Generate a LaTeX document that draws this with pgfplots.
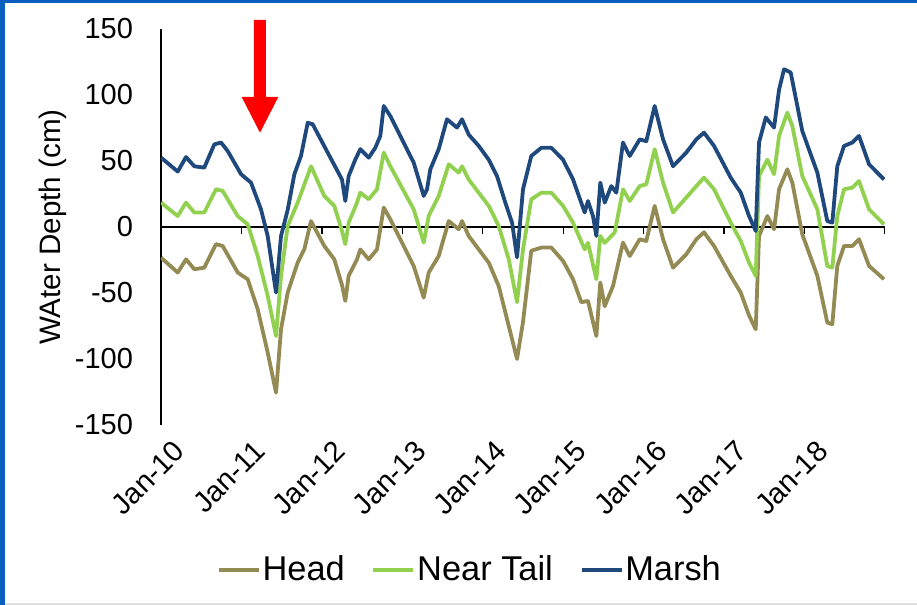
\documentclass[border=0pt]{standalone}
\usepackage{pgfplots}
\pgfplotsset{compat=1.18}
\usepackage{fontspec}
\setmainfont{Liberation Sans}
\definecolor{headc}{HTML}{948A54}
\definecolor{tailc}{HTML}{92D050}
\definecolor{marshc}{HTML}{1F497D}
\definecolor{frameblue}{HTML}{0A5EC0}
\begin{document}
\begin{tikzpicture}
\path[use as bounding box] (-80.5pt,-90pt) rectangle (378pt,212.5pt);
\fill[frameblue] (-80.5pt,-90pt) rectangle (-78pt,212.5pt);
\fill[frameblue] (-80.5pt,211.2pt) rectangle (378pt,212.5pt);
\fill[black!12] (-78pt,-90pt) rectangle (378pt,-89pt);
\begin{axis}[at={(0pt,0pt)}, anchor=south west, scale only axis,
  width=362pt, height=198pt,
  xmin=2010, xmax=2019, ymin=-150, ymax=150,
  axis x line*=bottom, axis y line*=left,
  x axis line style={draw=none},
  y axis line style={-, line width=0.8pt, black},
  xtick={2010,2011,2012,2013,2014,2015,2016,2017,2018,2019},
  xticklabels={Jan-10,Jan-11,Jan-12,Jan-13,Jan-14,Jan-15,Jan-16,Jan-17,Jan-18,{}},
  ytick={-150,-100,-50,0,50,100,150},
  yticklabels={-150,-100,-50,0,50,100,150},
  major tick length=0pt,
  xtick style={draw=none}, ytick style={draw=none},
  tick label style={font=\fontsize{14.5}{17}\selectfont},
  yticklabel style={anchor=east, inner sep=0pt, xshift=-13.8pt},
  xticklabel style={rotate=45, anchor=east, inner sep=0pt, yshift=-14pt, xshift=-1pt},
  ylabel={WAter Depth (cm)},
  every axis y label/.style={at={(axis description cs:-0.150,0.5)}, rotate=90, anchor=center,
    font=\fontsize{14.8}{17}\selectfont},
  legend columns=3,
  legend style={draw=none, fill=none, at={(axis description cs:0.0770,-0.366)}, anchor=west,
    font=\fontsize{17.2}{20}\selectfont, inner sep=0pt,
    nodes={inner sep=1pt},
    /tikz/every even column/.append style={column sep=12.5pt}},
  legend image code/.code={\draw[#1, line width=1.7pt] (0pt,0pt) -- (20pt,0pt);},
  every axis plot/.append style={line width=1.9pt, line join=round},
]
\draw[black, line width=0.8pt] (axis cs:2010,0) -- (axis cs:2019,0);
\pgfplotsinvokeforeach{2011,2012,2013,2014,2015,2016,2017,2018,2019}{
  \draw[black, line width=0.7pt] (axis cs:#1,0) -- ++(0pt,-3.5pt);
}
\addplot[headc] coordinates {
(2010.000,-23.2) (2010.208,-34.5) (2010.311,-24.5) (2010.414,-32) (2010.538,-30.8)
(2010.684,-13) (2010.767,-14.4) (2010.954,-34.5) (2011.078,-39.6) (2011.202,-62.3)
(2011.326,-95) (2011.430,-125.5) (2011.492,-77.5) (2011.575,-49.7) (2011.699,-27)
(2011.781,-17) (2011.865,4.5) (2012.030,-14.4) (2012.154,-24.5) (2012.250,-44)
(2012.291,-56) (2012.333,-37) (2012.437,-24.5) (2012.478,-17) (2012.582,-24.5)
(2012.685,-17) (2012.769,14.7) (2012.851,5.8) (2013.141,-29.5) (2013.266,-53.5)
(2013.328,-34.5) (2013.452,-22) (2013.577,4.5) (2013.701,-1.7) (2013.742,4.5)
(2013.825,-6.8) (2014.074,-27) (2014.198,-44.7) (2014.323,-75) (2014.426,-100)
(2014.500,-72) (2014.603,-18) (2014.728,-15.6) (2014.852,-15.6) (2014.998,-25.7)
(2015.122,-39.6) (2015.225,-57) (2015.308,-56) (2015.412,-82.6) (2015.461,-42)
(2015.516,-60) (2015.619,-44.7) (2015.743,-11.8) (2015.827,-22) (2015.951,-9.3)
(2016.033,-10.6) (2016.137,16) (2016.241,-9.3) (2016.365,-30.8) (2016.530,-20.7)
(2016.655,-9.3) (2016.750,-4) (2016.875,-14.4) (2017.082,-37) (2017.207,-49.7)
(2017.310,-67) (2017.393,-77.5) (2017.434,-6.8) (2017.538,8.3) (2017.621,-1.7)
(2017.683,28.6) (2017.786,43.7) (2017.848,33.6) (2017.972,-5.5) (2018.159,-37)
(2018.283,-72.4) (2018.345,-73.7) (2018.407,-29.5) (2018.491,-14.4) (2018.594,-14.4)
(2018.677,-9.3) (2018.802,-29.5) (2018.988,-39.6)
};
\addlegendentry{Head}
\addplot[tailc] coordinates {
(2010.000,18.5) (2010.208,8.3) (2010.311,18.5) (2010.414,11) (2010.538,11)
(2010.684,28.6) (2010.767,27.3) (2010.954,8.3) (2011.078,2) (2011.202,-22)
(2011.326,-52) (2011.430,-82.6) (2011.492,-37) (2011.575,0.8) (2011.699,18.5)
(2011.865,46) (2012.030,23.5) (2012.154,16) (2012.250,-3) (2012.291,-13)
(2012.333,3.3) (2012.437,18.5) (2012.478,26) (2012.582,21) (2012.685,28.6)
(2012.769,56.4) (2012.851,46) (2013.141,13.4) (2013.266,-11.8) (2013.328,8.3)
(2013.452,23.5) (2013.577,47.5) (2013.701,41.2) (2013.742,46) (2013.825,36)
(2014.074,16) (2014.198,0.8) (2014.323,-24.5) (2014.426,-57) (2014.500,-17)
(2014.603,21) (2014.728,26) (2014.852,26) (2014.998,16) (2015.122,3.3)
(2015.267,-17) (2015.308,-12) (2015.412,-39.6) (2015.461,-6.8) (2015.516,-12)
(2015.640,-4.2) (2015.743,28.6) (2015.827,19.7) (2015.951,31) (2016.033,32.3)
(2016.137,58.9) (2016.241,33.6) (2016.365,11) (2016.530,22.3) (2016.655,31)
(2016.750,37.4) (2016.875,28.6) (2017.082,3.3) (2017.207,-10.6) (2017.310,-27)
(2017.393,-37) (2017.434,38.6) (2017.538,51) (2017.621,40) (2017.683,69)
(2017.786,86.7) (2017.848,76.5) (2017.972,38.6) (2018.159,13.4) (2018.283,-29.5)
(2018.345,-30.8) (2018.407,8.3) (2018.491,28.6) (2018.594,29.8) (2018.677,34.8)
(2018.802,13.4) (2018.988,2)
};
\addlegendentry{Near Tail}
\addplot[marshc] coordinates {
(2010.000,52.6) (2010.208,42) (2010.311,53) (2010.414,46) (2010.538,45)
(2010.663,62.6) (2010.746,64) (2010.829,57.6) (2010.995,40) (2011.119,33.6)
(2011.243,13.4) (2011.326,-6.8) (2011.430,-49.7) (2011.492,-6.8) (2011.575,13)
(2011.658,40) (2011.740,53.8) (2011.824,79) (2011.886,77.8) (2012.072,56.4)
(2012.250,36) (2012.291,19.7) (2012.333,38.6) (2012.415,51) (2012.478,59)
(2012.582,52.5) (2012.664,60) (2012.726,69) (2012.769,91.7) (2012.851,84)
(2012.996,66.4) (2013.141,48.8) (2013.266,23.5) (2013.307,28.6) (2013.348,43.7)
(2013.452,58.9) (2013.555,81.6) (2013.680,75.3) (2013.742,81.6) (2013.825,70)
(2013.950,61.4) (2014.074,51) (2014.177,38.6) (2014.280,18.5) (2014.364,3.3)
(2014.426,-23) (2014.500,28.6) (2014.603,53.8) (2014.728,60) (2014.852,60)
(2014.998,51) (2015.122,36) (2015.267,11) (2015.308,19.7) (2015.370,8.3)
(2015.412,-6.8) (2015.461,33.6) (2015.516,18.5) (2015.598,31) (2015.660,26)
(2015.743,64) (2015.827,53.8) (2015.951,66.4) (2016.033,65) (2016.137,91.7)
(2016.241,66.4) (2016.365,46) (2016.530,56.4) (2016.655,66.4) (2016.750,71.5)
(2016.875,61.4) (2017.082,37.4) (2017.207,26) (2017.310,8.3) (2017.393,-3)
(2017.434,64) (2017.518,83) (2017.621,75.3) (2017.683,104) (2017.745,119.5)
(2017.828,117) (2017.972,72.7) (2018.159,41.2) (2018.283,4.5) (2018.345,3.3)
(2018.407,46) (2018.491,61.4) (2018.594,64) (2018.677,69) (2018.802,47.5)
(2018.988,36)
};
\addlegendentry{Marsh}
\end{axis}
\fill[red] (46.5pt,202.5pt) -- (52.5pt,202.5pt) -- (52.5pt,164pt) -- (58.65pt,164pt)
  -- (49.5pt,146.15pt) -- (40.35pt,164pt) -- (46.5pt,164pt) -- cycle;
\end{tikzpicture}
\end{document}
